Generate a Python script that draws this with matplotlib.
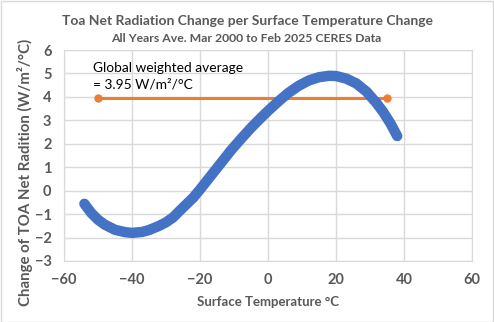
import numpy as np
import matplotlib.pyplot as plt
from matplotlib.patches import Rectangle

# curve (surface temp degC, dR/dT W/m2/degC)
temp = [-54, -52, -50, -48, -45, -42, -40, -37, -35, -32, -30, -28, -25, -22,
        -20, -17, -14, -11, -8, -5, -2, 0, 3, 6, 9, 12, 15, 18, 20, 23, 26,
        29, 32, 34, 36, 38]
change = [-0.56, -0.95, -1.24, -1.45, -1.67, -1.77, -1.80, -1.76, -1.68, -1.50,
          -1.35, -1.15, -0.72, -0.30, 0.05, 0.60, 1.15, 1.70, 2.20, 2.68, 3.12,
          3.40, 3.80, 4.17, 4.47, 4.70, 4.84, 4.90, 4.89, 4.78, 4.57, 4.22,
          3.72, 3.33, 2.87, 2.33]
avg_x = [-50, 35]
avg_y = [3.95, 3.95]

xticks = [-60, -40, -20, 0, 20, 40, 60]
yticks = [-3, -2, -1, 0, 1, 2, 3, 4, 5, 6]

plt.rcParams['font.family'] = ['Lato', 'DejaVu Sans']
grey = '#595959'

W, H = 494, 322
fig = plt.figure(figsize=(W / 100, H / 100), dpi=100)
fig.patches.append(Rectangle((0.5 / W, 0.5 / H), 1 - 1.5 / W, 1 - 1.5 / H,
                             transform=fig.transFigure, fill=False,
                             edgecolor='#d9d9d9', linewidth=1))
ax = fig.add_axes([64 / W, 1 - 261 / H, 408 / W, 211 / H])

ax.plot(temp, change, color='#4472c4', linewidth=7.5, solid_capstyle='round',
        solid_joinstyle='round', zorder=3)
ax.plot(avg_x, avg_y, color='#ed7d31', linewidth=2.2, marker='o',
        markersize=5, zorder=2)

ax.set_xlim(-60, 60)
ax.set_ylim(-3, 6)
ax.set_xticks(xticks)
ax.set_yticks(yticks)
ax.grid(True, color='#d9d9d9', linewidth=1)
ax.set_axisbelow(True)
for s in ax.spines.values():
    s.set_color('#d9d9d9')
ax.tick_params(length=0, labelsize=10.5, labelcolor=grey)
ax.tick_params(axis='x', pad=9)
ax.tick_params(axis='y', pad=9)
for lab in ax.get_xticklabels() + ax.get_yticklabels():
    lab.set_fontweight('bold')

ax.text(-51.5, 4.9, 'Global weighted average\n= 3.95 W/m²/°C', fontsize=9.9,
        color='black', va='center', ha='left', linespacing=1.45)

ax.set_xlabel('Surface Temperature °C', fontsize=9.5, fontweight='bold',
              color=grey, va='center')
ax.xaxis.set_label_coords(0.5, (261 - 301.5) / 211)
ax.set_ylabel('Change of TOA Net Radition (W/m²/°C)', fontsize=10.8,
              fontweight='bold', color=grey, va='center')
ax.yaxis.set_label_coords((25 - 64) / 408, (261 - 172.5) / 211)

fig.text(247 / W, 1 - 21 / H,
         'Toa Net Radiation Change per Surface Temperature Change',
         fontsize=10, fontweight='bold', color=grey, ha='center', va='center')
fig.text(246 / W, 1 - 38 / H, 'All Years Ave. Mar 2000 to Feb 2025 CERES Data',
         fontsize=8.8, fontweight='bold', color=grey, ha='center', va='center')

fig.savefig('out.png', dpi=100)
